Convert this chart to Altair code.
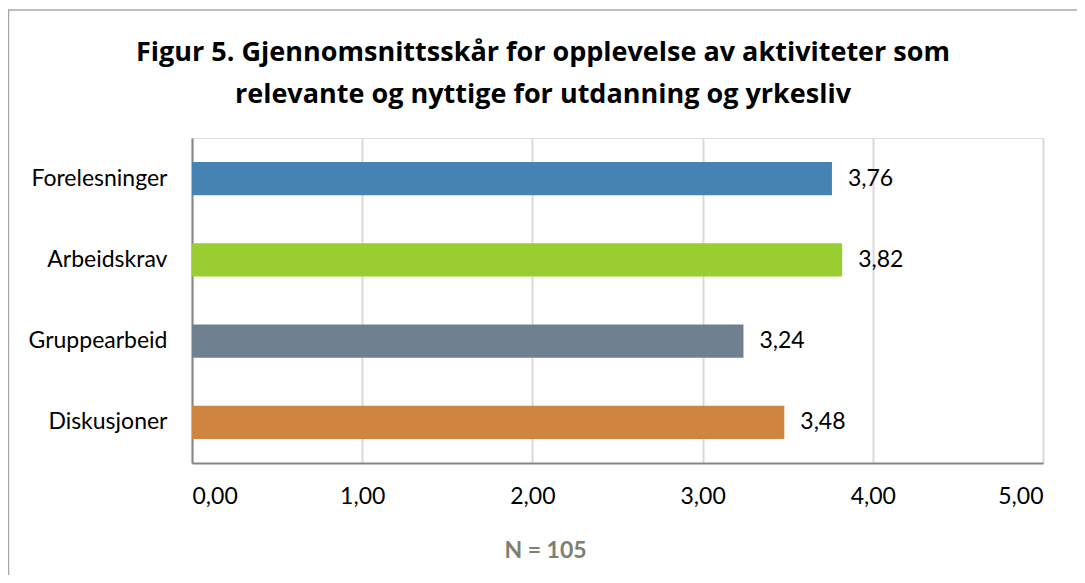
import altair as alt
import pandas as pd

categories = ["Forelesninger", "Arbeidskrav", "Gruppearbeid", "Diskusjoner"]
values = [3.76, 3.82, 3.24, 3.48]
colors = ["#4682B4", "#9ACD32", "#708090", "#CD853F"]
ticks = [0, 1, 2, 3, 4, 5]
title_lines = ["Figur 5. Gjennomsnittsskår for opplevelse av aktiviteter som",
               "relevante og nyttige for utdanning og yrkesliv"]
note = "N = 105"

df = pd.DataFrame({"kategori": categories, "verdi": values})

FONT = "Lato"
TFONT = "Open Sans"
FS = 23

base = alt.Chart(df).encode(
    y=alt.Y("kategori:N", sort=categories,
            scale=alt.Scale(paddingInner=0.59, paddingOuter=0.295),
            axis=alt.Axis(title=None, labelFontSize=FS, labelFont=FONT, labelColor="#000000",
                          labelPadding=25, ticks=False, domainColor="#868686", domainWidth=2,
                          grid=False)),
)

bars = base.mark_bar().encode(
    x=alt.X("verdi:Q", scale=alt.Scale(domain=[0, 5], nice=False),
            axis=alt.Axis(values=ticks, title=note, titleFont=FONT, titleFontSize=FS,
                          titleFontWeight="bold", titleColor="#7F7F6F",
                          titleX=353, titleY=87, titleAlign="center", titleBaseline="middle",
                          labelExpr="replace(format(datum.value, '.2f'), '.', ',')",
                          labelFontSize=FS, labelFont=FONT, labelColor="#000000",
                          labelPadding=22, ticks=False, domainColor="#868686", domainWidth=2,
                          grid=True, gridColor="#D9D9D9", gridWidth=2)),
    color=alt.Color("kategori:N", scale=alt.Scale(domain=categories, range=colors), legend=None),
)

labels = base.mark_text(align="left", baseline="middle", dx=16, fontSize=FS, font=FONT,
                        color="#000000").transform_calculate(
    lab="replace(format(datum.verdi, '.2f'), '.', ',')"
).encode(x=alt.X("verdi:Q"), text="lab:N")

one = alt.Chart(df).transform_filter(alt.datum.kategori == categories[0])

border = one.mark_rect(fill=None, stroke="#A6A6A6", strokeWidth=1.5).encode(
    x=alt.value(-183.5), x2=alt.value(905), y=alt.value(-128), y2=alt.value(455)
)

title1 = one.mark_text(fontSize=27, font=TFONT, fontWeight="bold", color="#000000",
                       align="center", baseline="middle").encode(
    x=alt.value(351), y=alt.value(-85), text=alt.value(title_lines[0]))
title2 = one.mark_text(fontSize=27, font=TFONT, fontWeight="bold", color="#000000",
                       align="center", baseline="middle").encode(
    x=alt.value(351), y=alt.value(-43), text=alt.value(title_lines[1]))

chart = alt.layer(bars, labels, border, title1, title2).properties(
    width=851, height=325,
    autosize=alt.AutoSizeParams(type="none"),
    padding={"left": 184, "top": 130, "right": 34, "bottom": 112},
).configure_view(stroke=None).configure(background="white")

chart.save("out.html", embed_options={"renderer": "svg", "actions": False})
